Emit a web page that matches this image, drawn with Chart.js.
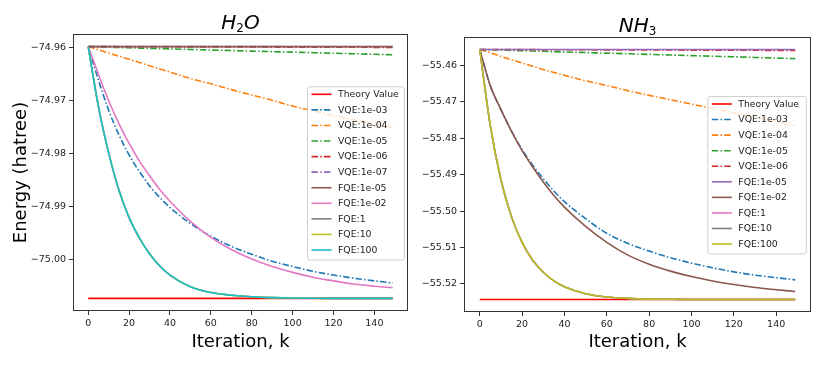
<!DOCTYPE html>
<html>
<head>
<meta charset="utf-8">
<script src="https://cdn.jsdelivr.net/npm/chart.js@4/dist/chart.umd.min.js"></script>
<style>
    html, body { margin: 0; padding: 0; background: #fff; }
    #wrap { position: relative; width: 830px; height: 369px; }
    canvas { position: absolute; top: 0; }
</style>
</head>
<body>
<div id="wrap">
    <canvas id="h2o" width="415" height="369" style="left:0"></canvas>
    <canvas id="nh3" width="415" height="369" style="left:415px"></canvas>
</div>
<script>
const iterations = [0, 5, 10, 15, 20, 25, 30, 35, 40, 50, 60, 70, 80, 90, 100, 110, 120, 130, 140, 149];
const xTicks = [0, 20, 40, 60, 80, 100, 120, 140];

// ---- H2O (hartree) ----
const h2oTheory = -75.0073;
const h2oVqe1e3 = [-74.9599, -74.9662, -74.9719, -74.9765, -74.9803, -74.9834, -74.9861, -74.9883, -74.9902, -74.9932, -74.9956, -74.9975, -74.9990, -75.0003, -75.0013, -75.0022, -75.0029, -75.0035, -75.0040, -75.0044];
const h2oVqe1e4 = [-74.9599, -74.9605, -74.9611, -74.9617, -74.9623, -74.9629, -74.9635, -74.9641, -74.9647, -74.9659, -74.9669, -74.9680, -74.9690, -74.9700, -74.9711, -74.9720, -74.9729, -74.9737, -74.9745, -74.9752];
const h2oVqe1e5 = [-74.9599, -74.95996, -74.96001, -74.96007, -74.96012, -74.96018, -74.96023, -74.96028, -74.96034, -74.96044, -74.96055, -74.96065, -74.96075, -74.96085, -74.96095, -74.96105, -74.96115, -74.96125, -74.96135, -74.96145];
const h2oVqe1e6 = [-74.9599, -74.95991, -74.95991, -74.95992, -74.95992, -74.95993, -74.95993, -74.95994, -74.95994, -74.95995, -74.95996, -74.95997, -74.95998, -74.95999, -74.96000, -74.96001, -74.96002, -74.96003, -74.96004, -74.96005];
const h2oVqe1e7 = [-74.9599, -74.9599, -74.9599, -74.9599, -74.9599, -74.9599, -74.9599, -74.9599, -74.9599, -74.95991, -74.95991, -74.95991, -74.95991, -74.95991, -74.95992, -74.95992, -74.95992, -74.95992, -74.95992, -74.95992];
const h2oFqe1e5 = [-74.9599, -74.9599, -74.9599, -74.9599, -74.9599, -74.9599, -74.9599, -74.9599, -74.9599, -74.9599, -74.9599, -74.9599, -74.9599, -74.9599, -74.9599, -74.9599, -74.9599, -74.9599, -74.9599, -74.9599];
const h2oFqe1e2 = [-74.9599, -74.9651, -74.9701, -74.9744, -74.9781, -74.9814, -74.9842, -74.9868, -74.9890, -74.9928, -74.9958, -74.9981, -74.9999, -75.0013, -75.0024, -75.0033, -75.0040, -75.0046, -75.0050, -75.0053];
const h2oFqeFast = [-74.9599, -74.9712, -74.9799, -74.9869, -74.9921, -74.9959, -74.9989, -75.0012, -75.0029, -75.0051, -75.0062, -75.0067, -75.0070, -75.00715, -75.00723, -75.00727, -75.00729, -75.0073, -75.0073, -75.0073];
const h2oYTicks = [-75.00, -74.99, -74.98, -74.97, -74.96];

// ---- NH3 (hartree) ----
const nh3Theory = -55.5243;
const nh3Vqe1e3 = [-55.4556, -55.4656, -55.4721, -55.4780, -55.4831, -55.4874, -55.4911, -55.4945, -55.4974, -55.5021, -55.5061, -55.5089, -55.5110, -55.5128, -55.5143, -55.5156, -55.5167, -55.5176, -55.5183, -55.5189];
const nh3Vqe1e4 = [-55.4556, -55.4565, -55.4575, -55.4584, -55.4593, -55.4602, -55.4611, -55.4619, -55.4627, -55.4642, -55.4655, -55.4669, -55.4682, -55.4694, -55.4706, -55.4718, -55.4730, -55.4742, -55.4754, -55.4765];
const nh3Vqe1e5 = [-55.4556, -55.45568, -55.45577, -55.45585, -55.45594, -55.45602, -55.4561, -55.45619, -55.45627, -55.45644, -55.4566, -55.45677, -55.45694, -55.45711, -55.45728, -55.45745, -55.4576, -55.45778, -55.45795, -55.4581];
const nh3Vqe1e6 = [-55.4556, -55.45561, -55.45562, -55.45562, -55.45563, -55.45564, -55.45565, -55.45566, -55.45567, -55.45568, -55.4557, -55.45572, -55.45574, -55.45575, -55.45577, -55.45579, -55.4558, -55.45582, -55.45584, -55.45585];
const nh3Fqe1e5 = [-55.4556, -55.4556, -55.4556, -55.4556, -55.4556, -55.4556, -55.4556, -55.4556, -55.4556, -55.4556, -55.4556, -55.4556, -55.4556, -55.4556, -55.4556, -55.4556, -55.4556, -55.4556, -55.4556, -55.4556];
const nh3Fqe1e2 = [-55.4556, -55.4656, -55.4721, -55.4781, -55.4834, -55.4879, -55.4920, -55.4957, -55.4989, -55.5042, -55.5086, -55.5121, -55.5146, -55.5165, -55.5180, -55.5192, -55.5202, -55.5210, -55.5216, -55.5221];
const nh3FqeFast = [-55.4556, -55.4766, -55.4914, -55.5016, -55.5086, -55.5135, -55.5168, -55.5192, -55.5208, -55.5227, -55.5236, -55.5240, -55.5242, -55.52425, -55.5243, -55.5243, -55.5243, -55.5243, -55.5243, -55.5243];
const nh3YTicks = [-55.52, -55.51, -55.50, -55.49, -55.48, -55.47, -55.46];

const C = {
    blue: '#1f77b4', orange: '#ff7f0e', green: '#2ca02c', red: '#d62728', purple: '#9467bd',
    brown: '#8c564b', pink: '#e377c2', gray: '#7f7f7f', olive: '#bcbd22', cyan: '#17becf'
};
const DASHDOT = [6.5, 2.2, 1.5, 2.2];
const FONT = 'DejaVu Sans, Liberation Sans, sans-serif';

function pts(values) {
    return values.map((v, i) => ({ x: iterations[i], y: v }));
}

function flat(value) {
    return [{ x: iterations[0], y: value }, { x: iterations[iterations.length - 1], y: value }];
}

function series(label, values, color, dashed) {
    return { label, data: pts(values), color, dashed };
}

// Title, axis labels, frame and legend are drawn on top of the chart
const decorPlugin = {
    id: 'decor',
    afterDraw(chart, args, opts) {
        const ctx = chart.ctx;
        const a = chart.chartArea;
        ctx.save();

        // axes frame
        ctx.strokeStyle = '#333';
        ctx.lineWidth = 1;
        ctx.strokeRect(Math.round(a.left) + 0.5, Math.round(a.top) + 0.5,
            Math.round(a.right - a.left) - 1, Math.round(a.bottom - a.top) - 1);

        // title with subscript (mathtext style)
        const parts = opts.title;
        const mainFont = 'italic 20px ' + FONT;
        const subFont = '12px ' + FONT;
        let w = 0;
        parts.forEach(p => {
            ctx.font = p.sub ? subFont : mainFont;
            w += ctx.measureText(p.t).width;
        });
        let x = (a.left + a.right) / 2 - w / 2;
        const base = a.top - 5;
        ctx.fillStyle = '#000';
        ctx.textBaseline = 'alphabetic';
        ctx.textAlign = 'left';
        parts.forEach(p => {
            ctx.font = p.sub ? subFont : mainFont;
            ctx.fillText(p.t, x, p.sub ? base + 3 : base);
            x += ctx.measureText(p.t).width;
        });

        // axis labels
        ctx.font = '18px ' + FONT;
        ctx.textAlign = 'center';
        ctx.fillText('Iteration, k', (a.left + a.right) / 2, 347);
        if (opts.yLabel) {
            ctx.save();
            ctx.translate(26, (a.top + a.bottom) / 2);
            ctx.rotate(-Math.PI / 2);
            ctx.fillText(opts.yLabel, 0, 0);
            ctx.restore();
        }

        // legend
        const L = opts.legend;
        const n = chart.data.datasets.length;
        const top = L.firstRow - 8;
        const h = (n - 1) * L.step + 17.5;
        ctx.beginPath();
        if (ctx.roundRect) ctx.roundRect(L.left + 0.5, top + 0.5, L.width, h, 2.5);
        else ctx.rect(L.left + 0.5, top + 0.5, L.width, h);
        ctx.fillStyle = 'rgba(255,255,255,0.8)';
        ctx.fill();
        ctx.strokeStyle = '#d0d0d0';
        ctx.lineWidth = 1;
        ctx.stroke();

        ctx.font = '9.3px ' + FONT;
        ctx.textAlign = 'left';
        ctx.textBaseline = 'middle';
        chart.data.datasets.forEach((ds, i) => {
            const y = L.firstRow + i * L.step;
            ctx.beginPath();
            ctx.setLineDash(ds.borderDash || []);
            ctx.strokeStyle = ds.borderColor;
            ctx.lineWidth = 1.6;
            ctx.moveTo(L.left + 4.5, y);
            ctx.lineTo(L.left + 24.5, y);
            ctx.stroke();
            ctx.setLineDash([]);
            ctx.fillStyle = '#222';
            ctx.fillText(ds.label, L.left + 31, y + 0.5);
        });
        ctx.restore();
    }
};

function makeChart(id, cfg) {
    const n = cfg.series.length;
    const datasets = cfg.series.map((s, i) => ({
        label: s.label,
        data: s.data || [],
        borderColor: s.color,
        backgroundColor: s.color,
        borderWidth: 1.6,
        borderDash: s.dashed ? DASHDOT : [],
        pointRadius: 0,
        fill: false,
        cubicInterpolationMode: 'monotone',
        order: n - i
    }));

    const allY = datasets.flatMap(d => d.data.map(p => p.y));
    const yMin = Math.min(...allY), yMax = Math.max(...allY);
    const yPad = (yMax - yMin) * 0.05;
    const xPad = (iterations[iterations.length - 1] - iterations[0]) * 0.05;

    const tickFont = { family: FONT, size: 9.5 };

    return new Chart(document.getElementById(id), {
        type: 'line',
        data: { datasets },
        options: {
            responsive: false,
            animation: false,
            layout: { padding: { left: 0, right: cfg.padRight, top: cfg.padTop, bottom: 0 } },
            plugins: {
                legend: { display: false },
                tooltip: { enabled: false },
                decor: { title: cfg.title, yLabel: cfg.yLabel, legend: cfg.legend }
            },
            scales: {
                x: {
                    type: 'linear',
                    min: iterations[0] - xPad,
                    max: iterations[iterations.length - 1] + xPad,
                    afterBuildTicks: s => { s.ticks = xTicks.map(v => ({ value: v })); },
                    afterFit: s => { s.height = cfg.xAxisHeight; },
                    grid: { drawOnChartArea: false, drawTicks: true, tickLength: 4, color: '#333' },
                    border: { display: false },
                    ticks: { font: tickFont, color: '#222', padding: 3, maxRotation: 0 }
                },
                y: {
                    type: 'linear',
                    min: yMin - yPad,
                    max: yMax + yPad,
                    afterBuildTicks: s => { s.ticks = cfg.yTicks.map(v => ({ value: v })); },
                    afterFit: s => { s.width = cfg.yAxisWidth; },
                    grid: { drawOnChartArea: false, drawTicks: true, tickLength: 4, color: '#333' },
                    border: { display: false },
                    ticks: {
                        font: tickFont, color: '#222', padding: 3,
                        callback: v => (v < 0 ? '\u2212' : '') + Math.abs(v).toFixed(2)
                    }
                }
            }
        },
        plugins: [decorPlugin]
    });
}

makeChart('h2o', {
    title: [{ t: 'H' }, { t: '2', sub: true }, { t: 'O' }],
    yLabel: 'Energy (hatree)',
    yTicks: h2oYTicks,
    yAxisWidth: 73,
    xAxisHeight: 58,
    padRight: 7,
    padTop: 34,
    legend: { left: 307, width: 97, firstRow: 94.3, step: 15.57 },
    series: [
        { label: 'Theory Value', data: flat(h2oTheory), color: '#ff0000' },
        series('VQE:1e-03', h2oVqe1e3, C.blue, true),
        series('VQE:1e-04', h2oVqe1e4, C.orange, true),
        series('VQE:1e-05', h2oVqe1e5, C.green, true),
        series('VQE:1e-06', h2oVqe1e6, C.red, true),
        series('VQE:1e-07', h2oVqe1e7, C.purple, true),
        series('FQE:1e-05', h2oFqe1e5, C.brown, false),
        series('FQE:1e-02', h2oFqe1e2, C.pink, false),
        series('FQE:1', h2oFqeFast, C.gray, false),
        series('FQE:10', h2oFqeFast, C.olive, false),
        series('FQE:100', h2oFqeFast, C.cyan, false)
    ]
});

makeChart('nh3', {
    title: [{ t: 'NH' }, { t: '3', sub: true }],
    yLabel: null,
    yTicks: nh3YTicks,
    yAxisWidth: 49,
    xAxisHeight: 57,
    padRight: 19,
    padTop: 37,
    legend: { left: 292.3, width: 98.5, firstRow: 104, step: 15.56 },
    series: [
        { label: 'Theory Value', data: flat(nh3Theory), color: '#ff0000' },
        series('VQE:1e-03', nh3Vqe1e3, C.blue, true),
        series('VQE:1e-04', nh3Vqe1e4, C.orange, true),
        series('VQE:1e-05', nh3Vqe1e5, C.green, true),
        series('VQE:1e-06', nh3Vqe1e6, C.red, true),
        series('FQE:1e-05', nh3Fqe1e5, C.purple, false),
        series('FQE:1e-02', nh3Fqe1e2, C.brown, false),
        series('FQE:1', nh3FqeFast, C.pink, false),
        series('FQE:10', nh3FqeFast, C.gray, false),
        series('FQE:100', nh3FqeFast, C.olive, false)
    ]
});
</script>
</body>
</html>
